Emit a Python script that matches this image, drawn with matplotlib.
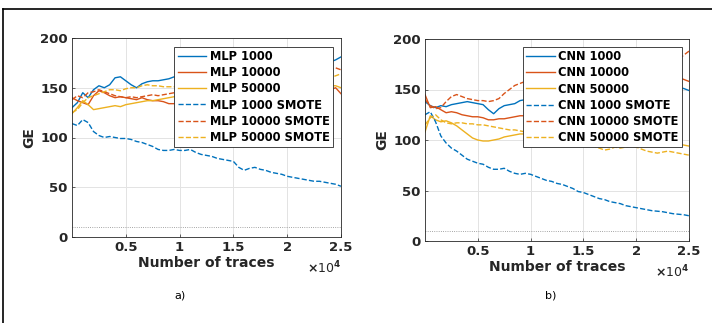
import matplotlib
matplotlib.use("Agg")
import matplotlib.pyplot as plt
from matplotlib.lines import Line2D

plt.rcParams['font.family'] = ['DejaVu Sans']
plt.rcParams['font.weight'] = 'bold'

traces = list(range(0, 25001, 500))

# Panel a) MLP
mlp_1000 = [130, 135, 145, 140, 148, 152, 150, 153, 160, 161, 157, 153, 150, 154, 156, 157, 157, 158, 159, 161,
            162, 163, 164, 163, 165, 166, 165, 167, 168, 167, 169, 170, 169, 171, 172, 171, 172, 173, 172, 174,
            173, 174, 175, 174, 175, 176, 175, 176, 176, 178, 181]
mlp_10000 = [140, 137, 135, 133, 142, 147, 145, 142, 140, 141, 140, 139, 138, 140, 138, 137, 137, 136, 134, 134,
             135, 136, 137, 138, 137, 139, 140, 141, 140, 142, 143, 142, 144, 145, 144, 146, 145, 147, 146, 148,
             147, 148, 149, 148, 150, 149, 150, 149, 148, 150, 144]
mlp_50000 = [124, 130, 137, 133, 128, 129, 130, 131, 132, 131, 133, 134, 135, 136, 137, 137, 138, 139, 140, 141,
             141, 142, 142, 143, 143, 144, 144, 145, 145, 146, 146, 147, 147, 148, 148, 149, 149, 150, 150, 150,
             151, 151, 151, 152, 152, 152, 151, 152, 152, 152, 150]
mlp_1000_smote = [114, 112, 118, 115, 106, 102, 100, 101, 100, 99, 99, 98, 96, 95, 93, 91, 88, 87, 87, 88,
                  87, 87, 88, 85, 83, 82, 81, 79, 78, 77, 76, 70, 67, 69, 70, 68, 67, 65, 64, 63,
                  61, 60, 59, 58, 57, 56, 56, 55, 54, 53, 51]
mlp_10000_smote = [138, 142, 140, 145, 146, 148, 146, 144, 142, 141, 140, 141, 140, 141, 142, 143, 142, 143, 144, 145,
                   146, 147, 148, 149, 150, 151, 152, 153, 154, 155, 156, 157, 157, 158, 159, 160, 161, 161, 162, 163,
                   163, 164, 165, 165, 166, 166, 167, 168, 168, 170, 168]
mlp_50000_smote = [125, 128, 135, 140, 142, 144, 146, 148, 148, 147, 149, 150, 150, 152, 153, 152, 152, 151, 151, 151,
                   152, 152, 153, 153, 154, 154, 155, 155, 155, 156, 156, 156, 157, 157, 157, 158, 158, 158, 158, 159,
                   159, 159, 159, 160, 160, 160, 160, 161, 160, 162, 164]

# Panel b) CNN
cnn_1000 = [138, 134, 132, 134, 133, 135, 136, 137, 138, 137, 136, 135, 130, 126, 131, 134, 135, 136, 139, 140,
            141, 141, 142, 142, 143, 143, 144, 144, 145, 145, 146, 146, 147, 147, 148, 148, 149, 149, 150, 150,
            150, 151, 151, 151, 152, 152, 152, 152, 152, 151, 149]
cnn_10000 = [145, 132, 133, 130, 127, 128, 127, 125, 124, 123, 123, 122, 120, 120, 121, 121, 122, 123, 124, 124,
             125, 126, 127, 128, 129, 130, 131, 132, 133, 134, 135, 136, 137, 138, 139, 140, 142, 143, 145, 146,
             148, 149, 151, 152, 154, 155, 157, 159, 162, 160, 158]
cnn_50000 = [108, 124, 120, 118, 119, 117, 114, 110, 106, 102, 100, 99, 99, 100, 101, 103, 104, 105, 106, 106,
             106, 106, 106, 105, 105, 105, 105, 104, 104, 104, 104, 104, 104, 104, 104, 104, 104, 103, 104, 103,
             103, 102, 102, 101, 100, 99, 98, 97, 96, 95, 94]
cnn_1000_smote = [125, 128, 118, 104, 97, 92, 89, 85, 81, 79, 77, 76, 73, 71, 71, 72, 69, 67, 66, 67,
                  66, 64, 62, 60, 59, 57, 56, 54, 52, 49, 48, 46, 44, 42, 41, 39, 38, 37, 35, 34,
                  33, 32, 31, 30, 29.5, 29, 28, 27, 26.5, 26, 25]
cnn_10000_smote = [140, 134, 131, 132, 138, 143, 145, 143, 141, 140, 139, 139, 138, 139, 141, 146, 150, 154, 156, 158,
                   159, 160, 161, 162, 163, 164, 165, 165, 166, 167, 167, 168, 169, 169, 170, 171, 171, 172, 173, 173,
                   174, 174, 175, 175, 176, 177, 177, 178, 180, 184, 188]
cnn_50000_smote = [115, 122, 125, 120, 117, 116, 117, 117, 116, 116, 115, 115, 114, 113, 112, 111, 110, 110, 109, 108,
                   107, 106, 105, 104, 104, 103, 103, 102, 102, 101, 100, 97, 94, 92, 90, 91, 93, 92, 93, 94,
                   93, 91, 89, 88, 87, 88, 89, 88, 87, 86, 85]

labels_a = ["MLP 1000", "MLP 10000", "MLP 50000", "MLP 1000 SMOTE", "MLP 10000 SMOTE", "MLP 50000 SMOTE"]
labels_b = ["CNN 1000", "CNN 10000", "CNN 50000", "CNN 1000 SMOTE", "CNN 10000 SMOTE", "CNN 50000 SMOTE"]
series_a = [mlp_1000, mlp_10000, mlp_50000, mlp_1000_smote, mlp_10000_smote, mlp_50000_smote]
series_b = [cnn_1000, cnn_10000, cnn_50000, cnn_1000_smote, cnn_10000_smote, cnn_50000_smote]
xtick_vals = [5000, 10000, 15000, 20000, 25000]
xtick_labels = ["0.5", "1", "1.5", "2", "2.5"]
ytick_vals = [0, 50, 100, 150, 200]
threshold = 10

colors = ['#0072BD', '#D95319', '#EDB120', '#0072BD', '#D95319', '#EDB120']
styles = ['-', '-', '-', '--', '--', '--']

W, H = 712, 323
fig = plt.figure(figsize=(W / 100, H / 100), dpi=100)

def px_axes(l, r, t, b):
    return [l / W, 1 - b / H, (r - l) / W, (b - t) / H]

panels = [
    (px_axes(72, 341, 38, 237), series_a, labels_a, "a)", (180, 295), (0.970, 0.955)),
    (px_axes(425, 689, 39, 241), series_b, labels_b, "b)", (551, 296), (0.973, 0.960)),
]

tick_fs = 9.5
lab_fs = 10
leg_fs = 8.3
dark = '#262626'
for rect, series, labels, tag, tagpos, legpos in panels:
    ax = fig.add_axes(rect)
    for s, lab, c, ls in zip(series, labels, colors, styles):
        ax.plot(traces, s, color=c, linestyle=ls, linewidth=1.0, label=lab)
    ax.axhline(threshold, color='#888888', linestyle=':', linewidth=0.6)
    ax.set_xlim(0, 25000)
    ax.set_ylim(0, 200)
    ax.set_xticks(xtick_vals)
    ax.set_xticklabels(xtick_labels)
    ax.set_yticks(ytick_vals)
    ax.grid(True, color='#e3e3e3', linewidth=0.7)
    ax.set_axisbelow(True)
    ax.tick_params(direction='in', length=2, width=0.5, labelsize=tick_fs, colors=dark, pad=3)
    for lbl in ax.get_xticklabels() + ax.get_yticklabels():
        lbl.set_fontweight('bold')
    for sp in ax.spines.values():
        sp.set_color(dark)
        sp.set_linewidth(0.6)
    ax.set_xlabel("Number of traces", fontsize=lab_fs, fontweight='bold', color=dark, labelpad=1)
    ax.set_ylabel("GE", fontsize=lab_fs, fontweight='bold', color=dark, labelpad=3)
    ax.text(1.0, -0.155, r"$\times$10$^4$", transform=ax.transAxes, fontsize=9, color=dark,
            ha='right', va='center', fontweight='normal')
    leg = ax.legend(loc='upper right', bbox_to_anchor=legpos, borderaxespad=0,
                    prop={'weight': 'bold', 'size': leg_fs}, handlelength=2.5, handletextpad=0.3,
                    labelspacing=0.27, borderpad=0.28, fancybox=False, framealpha=1)
    leg.get_frame().set_edgecolor(dark)
    leg.get_frame().set_linewidth(0.6)
    fig.text(tagpos[0] / W, 1 - tagpos[1] / H, tag, fontsize=8, fontweight='normal',
             ha='center', va='center')

# outer frame lines (top and left)
fig.add_artist(Line2D([3 / W, 1], [1 - 9 / H, 1 - 9 / H], color='black', linewidth=1.2, transform=fig.transFigure))
fig.add_artist(Line2D([3 / W, 3 / W], [0, 1 - 9 / H], color='black', linewidth=1.2, transform=fig.transFigure))

fig.savefig("out.png", dpi=100)
